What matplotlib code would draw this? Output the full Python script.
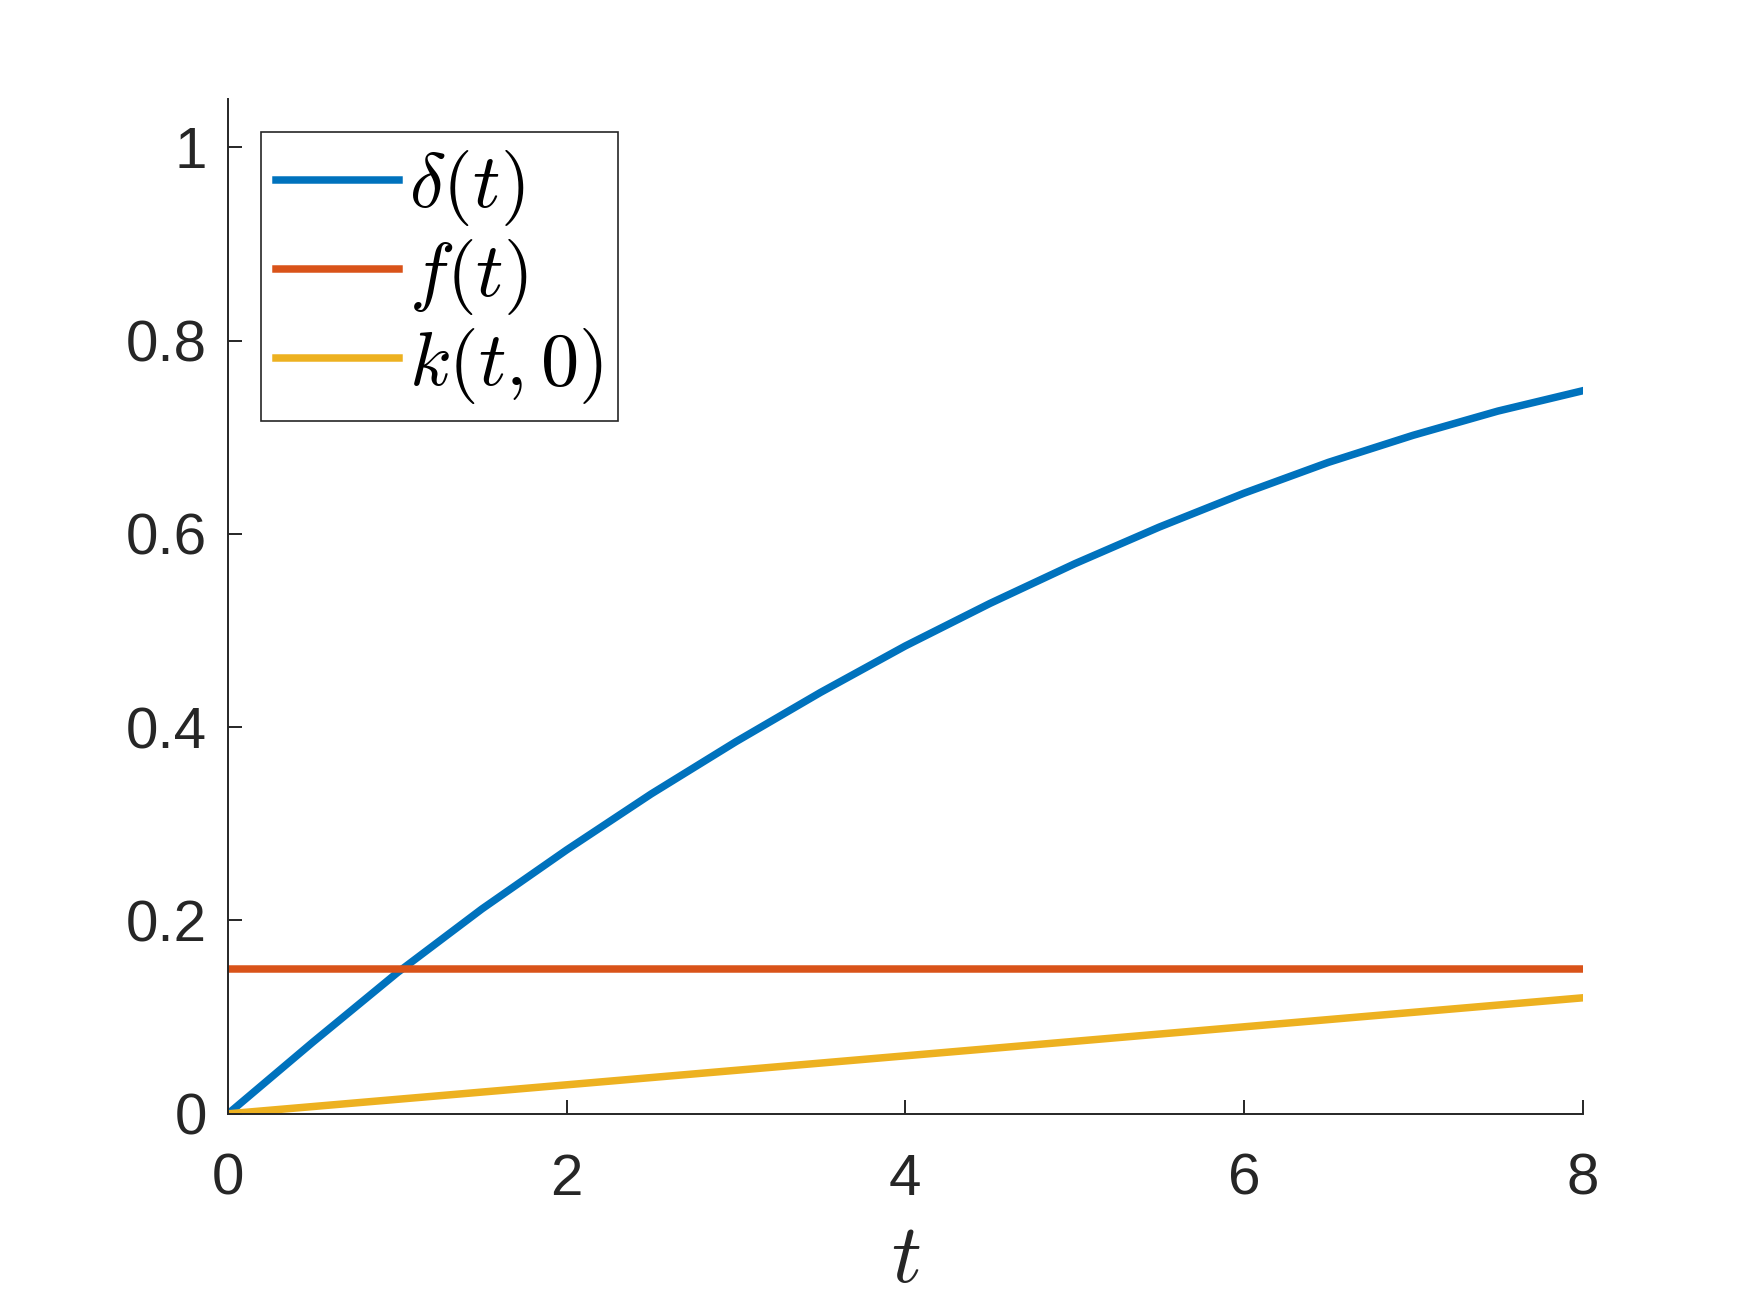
import numpy as np
import matplotlib
matplotlib.use("Agg")
import matplotlib.pyplot as plt

# values
t = [0, 0.5, 1, 1.5, 2, 2.5, 3, 3.5, 4, 4.5, 5, 5.5, 6, 6.5, 7, 7.5, 8]
delta = [0, 0.074, 0.146, 0.212, 0.273, 0.331, 0.385, 0.436, 0.484,
         0.528, 0.569, 0.607, 0.642, 0.674, 0.702, 0.727, 0.748]
t_f = [0, 8]
f_val = [0.15, 0.15]
t_k = [0, 8]
k_val = [0, 0.12]

xticks = [0, 2, 4, 6, 8]
yticks = [0, 0.2, 0.4, 0.6, 0.8, 1]
yticklabels = ["0", "0.2", "0.4", "0.6", "0.8", "1"]

plt.rcParams["font.family"] = ["Liberation Sans", "DejaVu Sans"]
plt.rcParams["mathtext.fontset"] = "cm"

dark = "#262626"
fig = plt.figure(figsize=(8.75, 6.565), dpi=200)
ax = fig.add_axes([0.1303, 0.1517, 0.774, 0.773])

ax.plot(t, delta, color="#0072BD", lw=2.7, label=r"$\delta(t)$")
ax.plot(t_f, f_val, color="#D95319", lw=2.7, label=r"$f(t)$")
ax.plot(t_k, k_val, color="#EDB120", lw=2.7, label=r"$k(t,0)$")

ax.set_xlim(0, 8)
ax.set_ylim(0, 1.05)
ax.set_xticks(xticks)
ax.set_xticklabels([str(v) for v in xticks])
ax.set_yticks(yticks)
ax.set_yticklabels(yticklabels)

for s in ["top", "right"]:
    ax.spines[s].set_visible(False)
for s in ["left", "bottom"]:
    ax.spines[s].set_color(dark)
    ax.spines[s].set_linewidth(0.7)

ax.tick_params(axis="both", direction="in", length=5, width=0.7,
               colors=dark, labelsize=21)
ax.tick_params(axis="x", pad=14)
ax.tick_params(axis="y", pad=7.5)

ax.set_xlabel(r"$t$", fontsize=30, color=dark, labelpad=5)

leg = ax.legend(loc="upper left", bbox_to_anchor=(0.0244, 0.967),
                borderaxespad=0, fontsize=27.5, handlelength=1.6,
                handletextpad=0.13, borderpad=0.2, labelspacing=0.12,
                fancybox=False, framealpha=1)
leg.get_frame().set_edgecolor(dark)
leg.get_frame().set_linewidth(0.6)

fig.savefig("out.png", dpi=200)
